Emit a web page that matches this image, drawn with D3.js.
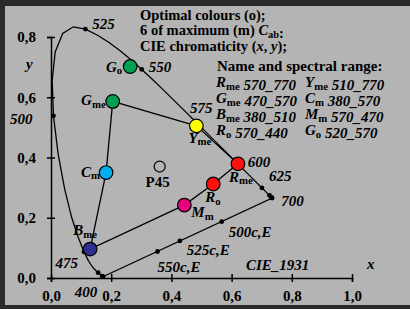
<!DOCTYPE html>
<html>
<head>
<meta charset="utf-8">
<script src="https://cdn.jsdelivr.net/npm/d3@7"></script>
<style>
  body { margin: 0; background: #b4b4b4; }
  svg { display: block; }
  text { font-family: "Liberation Serif", "Times New Roman", serif; font-weight: bold; fill: #000; }
  .it { font-style: italic; }
</style>
</head>
<body>
<div id="chart"></div>
<script>
// CIE 1931 spectral locus, 5 nm steps
const locusNm = [380,385,390,395,400,405,410,415,420,425,430,435,440,445,450,455,460,465,470,475,
  480,485,490,495,500,505,510,515,520,525,530,535,540,545,550,555,560,565,570,575,580,585,590,595,
  600,605,610,615,620,625,630,635,640,645,650,655,660,665,670,675,680,685,690,695,700];
const locusX = [0.1741,0.1740,0.1738,0.1736,0.1733,0.1730,0.1726,0.1721,0.1714,0.1703,0.1689,0.1669,
  0.1644,0.1611,0.1566,0.1510,0.1440,0.1355,0.1241,0.1096,0.0913,0.0687,0.0454,0.0235,0.0082,0.0039,
  0.0139,0.0389,0.0743,0.1142,0.1547,0.1929,0.2296,0.2658,0.3016,0.3373,0.3731,0.4087,0.4441,0.4788,
  0.5125,0.5448,0.5752,0.6029,0.6270,0.6482,0.6658,0.6801,0.6915,0.7006,0.7079,0.7140,0.7190,0.7230,
  0.7260,0.7283,0.7300,0.7311,0.7320,0.7327,0.7334,0.7340,0.7344,0.7346,0.7347];
const locusY = [0.0050,0.0050,0.0049,0.0049,0.0048,0.0048,0.0048,0.0048,0.0051,0.0058,0.0069,0.0086,
  0.0109,0.0138,0.0177,0.0227,0.0297,0.0399,0.0578,0.0868,0.1327,0.2007,0.2950,0.4127,0.5384,0.6548,
  0.7502,0.8120,0.8338,0.8262,0.8059,0.7816,0.7543,0.7243,0.6923,0.6589,0.6245,0.5896,0.5547,0.5202,
  0.4866,0.4544,0.4242,0.3965,0.3725,0.3514,0.3340,0.3197,0.3083,0.2993,0.2920,0.2859,0.2809,0.2770,
  0.2740,0.2717,0.2700,0.2689,0.2680,0.2673,0.2666,0.2660,0.2656,0.2654,0.2653];

const markNm = [400,425,450,475,500,525,550,575,600,625,650,675,700];
const labelNm = [400,475,500,525,550,575,600,625,700];

// complementary wavelengths on the purple line
const compNames = ["500c,E","525c,E","550c,E"];
const compX = [0.567, 0.428, 0.354];
const compY = [0.187, 0.123, 0.088];

// optimal / maximum colours
const colNames = ["Go","Gme","Yme","Rme","Ro","Mm","Cm","Bme"];
const colX = [0.263, 0.205, 0.483, 0.621, 0.539, 0.443, 0.183, 0.130];
const colY = [0.702, 0.586, 0.505, 0.379, 0.312, 0.242, 0.350, 0.096];
const colFill = ["#00a050","#00a050","#ffff00","#ff1010","#ff1010","#e6007e","#00aeef","#2e3192"];
const hexOrder = ["Yme","Rme","Ro","Mm","Bme","Cm","Gme","Yme"];

const p45 = [0.361, 0.370];

const xTicks = [0, 0.2, 0.4, 0.6, 0.8, 1.0];
const yTicks = [0, 0.2, 0.4, 0.6, 0.8];

const legendRows = [
  [["R","me"],"570_770",["Y","me"],"510_770"],
  [["G","me"],"470_570",["C","m"],"380_570"],
  [["B","me"],"380_510",["M","m"],"570_470"],
  [["R","o"],"570_440",["G","o"],"520_570"]
];

const W = 410, H = 309, FS = 15;
const svg = d3.select('#chart').append('svg').attr('width', W).attr('height', H);

// frame
svg.append('rect').attr('width', W).attr('height', H).attr('fill', '#2a2a2a');
svg.append('rect').attr('x', 5).attr('y', 6).attr('width', W).attr('height', 299).attr('fill', '#b4b4b4');

const x = d3.scaleLinear().domain([0, 1]).range([51, 352]);
const y = d3.scaleLinear().domain([0, 0.8]).range([278, 37]);
const fmt = d => d3.format('.1f')(d).replace('.', ',');

// axes
const gx = svg.append('g').attr('transform', 'translate(0,' + y(0) + ')')
  .call(d3.axisBottom(x).tickValues(xTicks).tickSize(4).tickFormat(fmt));
const gy = svg.append('g').attr('transform', 'translate(' + x(0) + ',0)')
  .call(d3.axisLeft(y).tickValues(yTicks).tickSize(4).tickFormat(fmt));
[gx, gy].forEach(g => {
  g.select('.domain').attr('stroke', '#000').attr('stroke-width', 1.5);
  g.selectAll('.tick line').attr('stroke', '#000').attr('stroke-width', 1.5);
  g.selectAll('text').attr('font-family', null).attr('font-size', FS).attr('fill', '#000');
});
gx.selectAll('.tick line').attr('y1', -4).attr('y2', 4);
gx.selectAll('.tick text').attr('y', 12);
gy.selectAll('.tick line').attr('x1', -4).attr('x2', 4);
gy.selectAll('.tick text').attr('x', -15);

svg.append('text').attr('class', 'it').attr('x', 26).attr('y', 69).attr('font-size', FS).text('y');
svg.append('text').attr('class', 'it').attr('x', 367).attr('y', 269).attr('font-size', FS).text('x');
svg.append('text').attr('class', 'it').attr('x', 246).attr('y', 270).attr('font-size', FS).text('CIE_1931');

// spectral locus + purple line
const locus = locusNm.map((nm, i) => [locusX[i], locusY[i]]);
const line = d3.line().x(d => x(d[0])).y(d => y(d[1]));
svg.append('path').datum(locus.concat([locus[0]])).attr('d', line)
  .attr('fill', 'none').attr('stroke', '#000').attr('stroke-width', 1.3);

const byNm = nm => locus[locusNm.indexOf(nm)];
svg.selectAll('.mark').data(markNm).enter().append('circle')
  .attr('cx', d => x(byNm(d)[0])).attr('cy', d => y(byNm(d)[1])).attr('r', 2.4).attr('fill', '#000');

const nmOff = {400: [-6, 20, 'end'], 475: [-6, 16, 'end'], 500: [-21, 8, 'end'], 525: [7, 0, 'start'],
  550: [7, 3, 'start'], 575: [-5, -8, 'start'], 600: [8, 1, 'start'], 625: [7, -7, 'start'], 700: [9, 8, 'start']};
svg.selectAll('.nml').data(labelNm).enter().append('text').attr('class', 'it')
  .attr('font-size', FS)
  .attr('x', d => x(byNm(d)[0]) + nmOff[d][0]).attr('y', d => y(byNm(d)[1]) + nmOff[d][1])
  .attr('text-anchor', d => nmOff[d][2]).text(d => d);

const compOff = [[7, 15], [7, 14], [0, 21]];
compNames.forEach((n, i) => {
  svg.append('circle').attr('cx', x(compX[i])).attr('cy', y(compY[i])).attr('r', 2.4).attr('fill', '#000');
  svg.append('text').attr('class', 'it').attr('font-size', FS)
    .attr('x', x(compX[i]) + compOff[i][0]).attr('y', y(compY[i]) + compOff[i][1]).text(n);
});

// hexagon of maximum colours
const pt = n => [colX[colNames.indexOf(n)], colY[colNames.indexOf(n)]];
svg.append('path').datum(hexOrder.map(pt)).attr('d', line)
  .attr('fill', 'none').attr('stroke', '#000').attr('stroke-width', 1.3);

svg.selectAll('.col').data(colNames).enter().append('circle')
  .attr('cx', (d, i) => x(colX[i])).attr('cy', (d, i) => y(colY[i])).attr('r', 6.8)
  .attr('fill', (d, i) => colFill[i]).attr('stroke', '#000').attr('stroke-width', 1.2);

svg.append('circle').attr('cx', x(p45[0])).attr('cy', y(p45[1])).attr('r', 5.5)
  .attr('fill', 'none').attr('stroke', '#000').attr('stroke-width', 1.2);
svg.append('text').attr('font-size', FS).attr('text-anchor', 'middle')
  .attr('x', x(p45[0]) - 2).attr('y', y(p45[1]) + 20).text('P45');

function subLabel(g, letter, sub, size) {
  g.append('tspan').attr('class', 'it').text(letter);
  g.append('tspan').attr('font-size', size * 0.72).attr('dy', 2.5).text(sub);
  g.append('tspan').attr('font-size', size).attr('dy', -2.5).text('');
}

const colLab = {Go: [-8, 5, 'end'], Gme: [-7, 4, 'end'], Yme: [-8, 17, 'start'], Rme: [-9, 18, 'start'],
  Ro: [-8, 18, 'start'], Mm: [7, 12, 'start'], Cm: [-6, 4, 'end'], Bme: [-17, -14, 'start']};
colNames.forEach((n, i) => {
  const o = colLab[n];
  const t = svg.append('text').attr('font-size', FS)
    .attr('x', x(colX[i]) + o[0]).attr('y', y(colY[i]) + o[1]).attr('text-anchor', o[2]);
  subLabel(t, n[0], n.slice(1), FS);
});

// title block
const title = svg.append('g').attr('font-size', 14.5);
title.append('text').attr('x', 140).attr('y', 20).text('Optimal colours (o);');
const t2 = title.append('text').attr('x', 140).attr('y', 35);
t2.append('tspan').text('6 of maximum (m) ');
subLabel(t2, 'C', 'ab', 14.5);
t2.append('tspan').text(':');
const t3 = title.append('text').attr('x', 140).attr('y', 51);
t3.append('tspan').text('CIE chromaticity (');
t3.append('tspan').attr('class', 'it').text('x');
t3.append('tspan').text(', ');
t3.append('tspan').attr('class', 'it').text('y');
t3.append('tspan').text(');');
const legend = svg.append('g').attr('font-size', FS);
legend.append('text').attr('x', 217).attr('y', 71).text('Name and spectral range:');

legendRows.forEach((r, i) => {
  const yy = 87 + i * 16;
  const a = legend.append('text').attr('x', 216).attr('y', yy);
  subLabel(a, r[0][0], r[0][1], FS);
  a.append('tspan').attr('class', 'it').text(' ' + r[1]);
  const b = legend.append('text').attr('x', 305).attr('y', yy);
  subLabel(b, r[2][0], r[2][1], FS);
  b.append('tspan').attr('class', 'it').text((r[2][1] === 'm' ? '  ' : ' ') + r[3]);
});
</script>
</body>
</html>
